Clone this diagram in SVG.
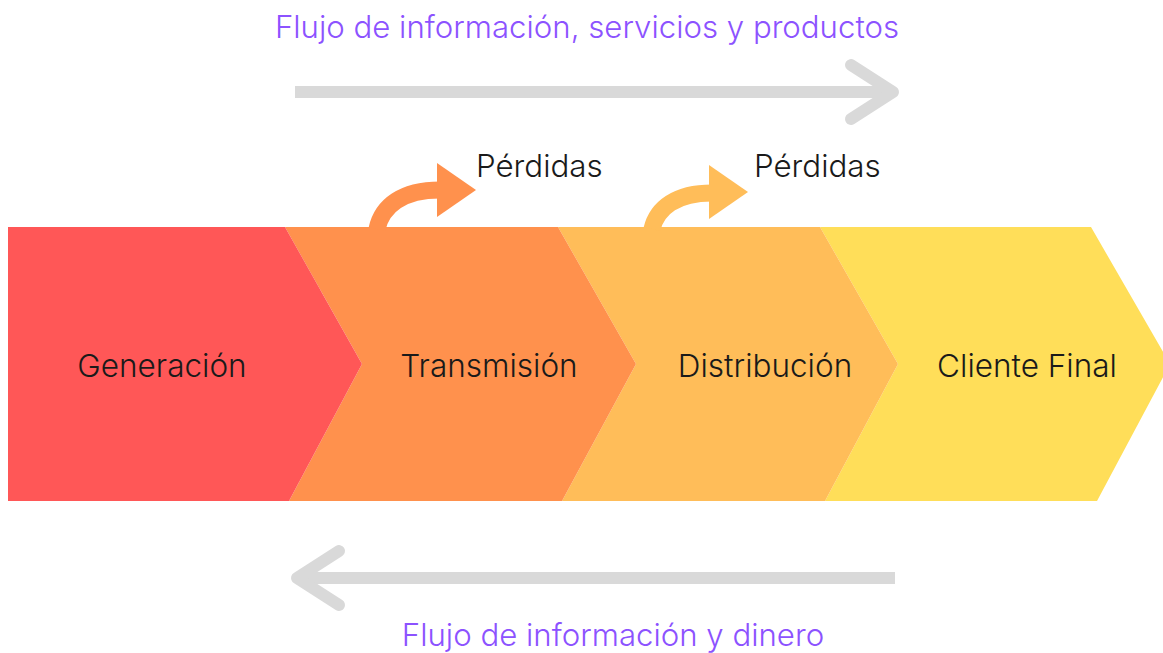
<svg xmlns="http://www.w3.org/2000/svg" width="1163" height="653" viewBox="0 0 1163 653">
<style>
.lbl{font-family:Inter,"Noto Sans","Liberation Sans",sans-serif;font-weight:300;font-size:31.5px;fill:#1a1a1a;text-anchor:middle}
.flow{font-family:Inter,"Noto Sans","Liberation Sans",sans-serif;font-weight:300;font-size:31.2px;fill:#8c52ff;text-anchor:middle}
.loss{font-family:Inter,"Noto Sans","Liberation Sans",sans-serif;font-weight:300;font-size:31.3px;fill:#1a1a1a}
.gray{fill:none;stroke:#d9d9d9;stroke-width:12;stroke-linecap:round;stroke-linejoin:round}
.garrow{stroke-linecap:butt}
</style>
<rect width="1163" height="653" fill="#ffffff"/>
<g id="cliente-final">
<polygon points="820,227 1091,227 1170,364 1097,501 825,501 898,364" fill="#ffde59"/>
<text class="lbl" x="1027" y="377">Cliente Final</text>
</g>
<g id="distribucion">
<polygon points="558,227 820,227 898,364 825,501 562,501 636,364" fill="#ffbd59"/>
<text class="lbl" x="765" y="377">Distribución</text>
</g>
<g id="transmision">
<polygon points="285,227 558,227 636,364 562,501 289,501 362,364" fill="#ff914d"/>
<text class="lbl" x="489" y="377">Transmisión</text>
</g>
<g id="generacion">
<polygon points="8,227 285,227 362,364 289,501 8,501" fill="#ff5757"/>
<text class="lbl" x="162" y="377">Generación</text>
</g>
<g id="connectors">
<g id="perdidas-1">
<path d="M377,229 C382,206 402,190 440,190" fill="none" stroke="#ff914d" stroke-width="17"/>
<polygon points="437,163 476,190 437,217" fill="#ff914d"/>
</g>
<g id="perdidas-2">
<path d="M652,229 C657,208 676,193 712,193" fill="none" stroke="#ffbd59" stroke-width="17"/>
<polygon points="709,165 748,192 709,219" fill="#ffbd59"/>
</g>
<g id="flow-forward">
<path class="gray garrow" d="M295,92 H892"/>
<path class="gray" d="M851,65 L893,92 L851,119"/>
</g>
<g id="flow-back">
<path class="gray garrow" d="M298,578 H895"/>
<path class="gray" d="M339,551 L297,578 L339,605"/>
</g>
</g>
<g id="labels">
<text class="loss" x="476" y="177">Pérdidas</text>
<text class="loss" x="754" y="177">Pérdidas</text>
<text class="flow" x="587" y="38">Flujo de información, servicios y productos</text>
<text class="flow" x="613" y="646">Flujo de información y dinero</text>
</g>
</svg>
